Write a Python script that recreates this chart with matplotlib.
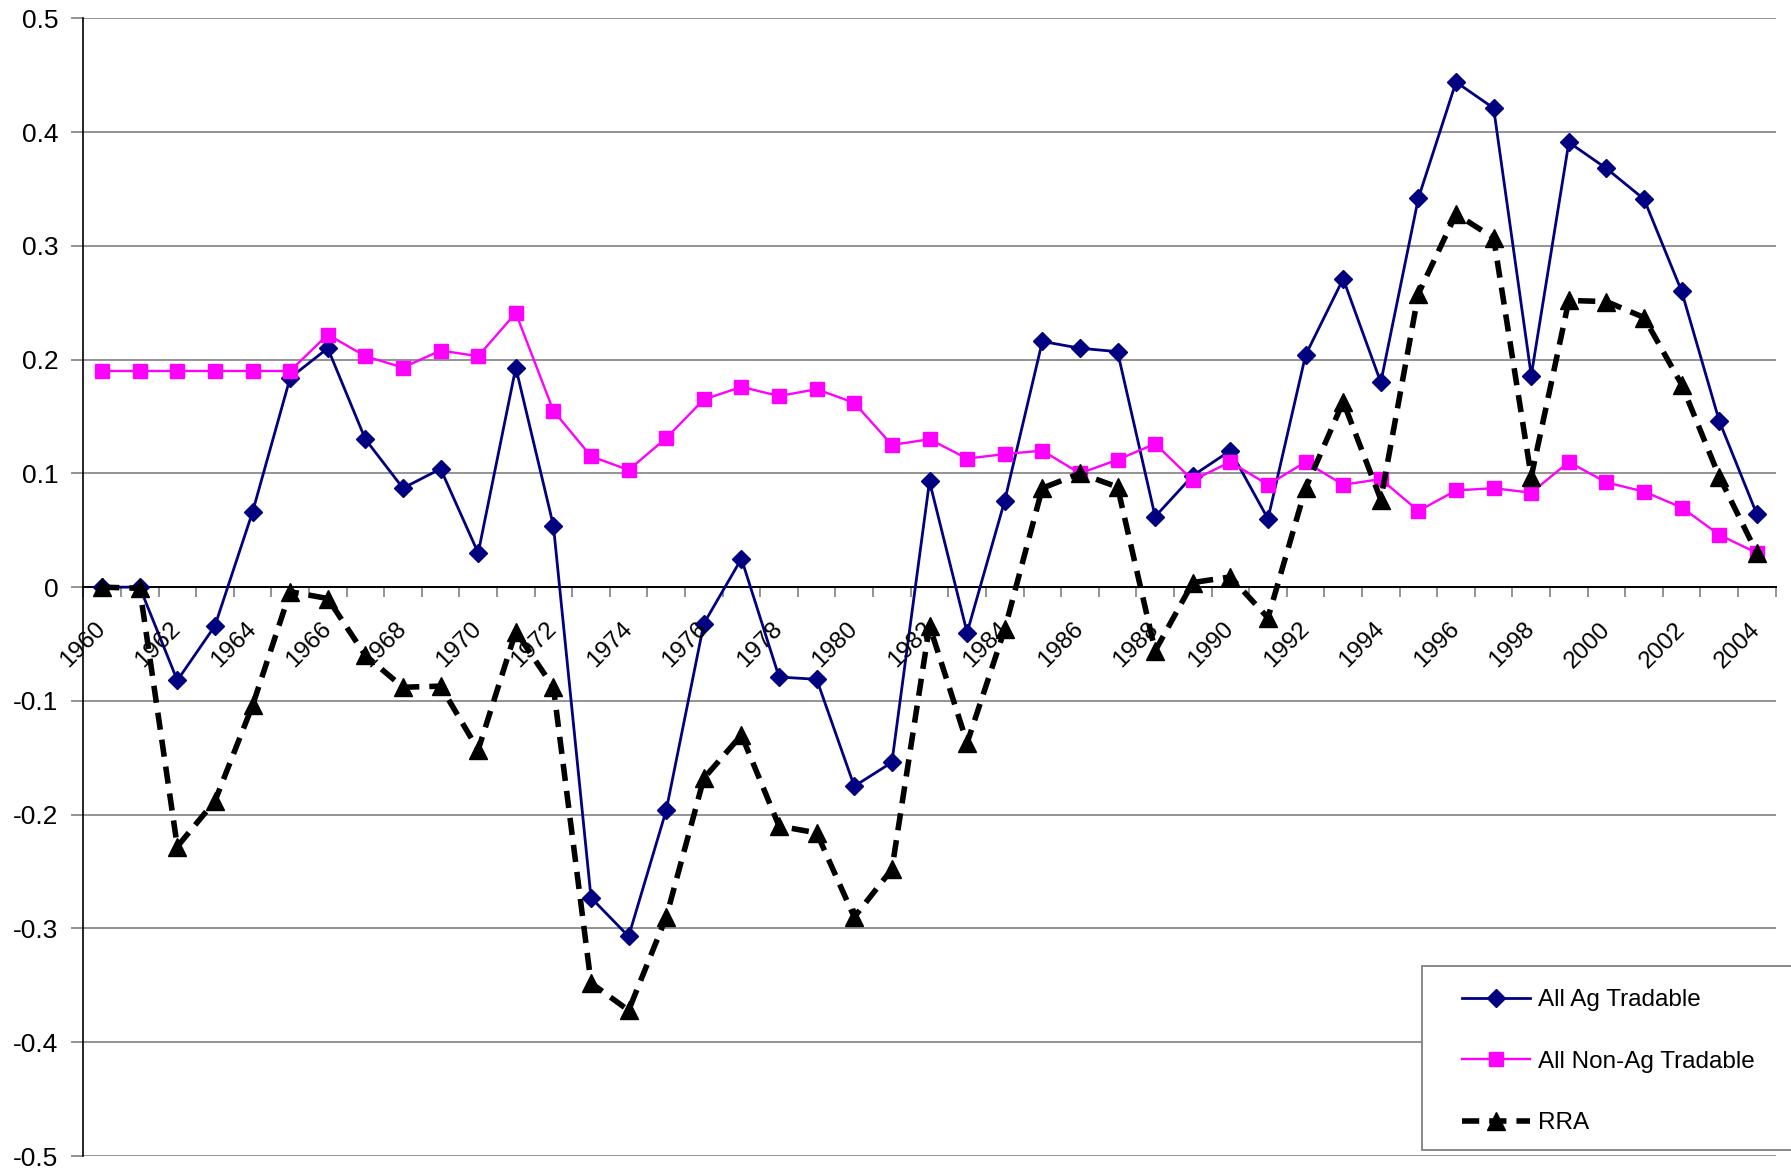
import matplotlib
matplotlib.use("Agg")
import matplotlib.pyplot as plt
from matplotlib.patches import Rectangle
from matplotlib.transforms import ScaledTranslation
from matplotlib.ticker import FixedLocator, NullLocator

plt.rcParams['font.family'] = ['Liberation Sans', 'DejaVu Sans']

years = list(range(1960, 2005))

ag_tradable = [0.0, 0.0, -0.082, -0.034, 0.066, 0.184, 0.210, 0.130, 0.087, 0.104,
               0.030, 0.193, 0.054, -0.273, -0.307, -0.196, -0.032, 0.025, -0.079, -0.081,
               -0.175, -0.154, 0.093, -0.040, 0.076, 0.216, 0.210, 0.207, 0.062, 0.098,
               0.120, 0.060, 0.204, 0.271, 0.180, 0.342, 0.444, 0.421, 0.186, 0.391,
               0.368, 0.341, 0.260, 0.146, 0.064]

non_ag_tradable = [0.190, 0.190, 0.190, 0.190, 0.190, 0.190, 0.222, 0.203, 0.193, 0.208,
                   0.203, 0.241, 0.155, 0.115, 0.103, 0.131, 0.165, 0.176, 0.168, 0.174,
                   0.162, 0.125, 0.130, 0.113, 0.117, 0.120, 0.100, 0.112, 0.126, 0.094,
                   0.110, 0.090, 0.110, 0.090, 0.095, 0.067, 0.085, 0.087, 0.083, 0.110,
                   0.092, 0.084, 0.070, 0.046, 0.030]

rra = [0.0, -0.001, -0.228, -0.188, -0.104, -0.004, -0.010, -0.060, -0.088, -0.087,
       -0.143, -0.039, -0.088, -0.348, -0.372, -0.290, -0.168, -0.130, -0.210, -0.216,
       -0.290, -0.248, -0.034, -0.137, -0.037, 0.087, 0.100, 0.088, -0.056, 0.004,
       0.009, -0.027, 0.087, 0.163, 0.077, 0.258, 0.328, 0.307, 0.097, 0.252,
       0.251, 0.237, 0.178, 0.097, 0.030]

y_ticks = [-0.5, -0.4, -0.3, -0.2, -0.1, 0, 0.1, 0.2, 0.3, 0.4, 0.5]
y_tick_labels = ['-0.5', '-0.4', '-0.3', '-0.2', '-0.1', '0', '0.1', '0.2', '0.3', '0.4', '0.5']

W, H = 1791, 1172
fig = plt.figure(figsize=(W / 100, H / 100), dpi=100)
ax = fig.add_axes([83.3 / W, 1 - 1156 / H, (1775.7 - 83.3) / W, (1156 - 18.3) / H])

FS = 17.5
FS_Y = 19
x = list(range(len(years)))

ax.plot(x, ag_tradable, color='#000080', lw=2.0, marker='D', ms=9.5,
        mfc='#000080', mec='#000080', label='All Ag Tradable', zorder=3)
ax.plot(x, non_ag_tradable, color='#FF00FF', lw=1.7, marker='s', ms=10.5,
        mfc='#FF00FF', mec='#FF00FF', label='All Non-Ag Tradable', zorder=4)
ax.plot(x, rra, color='black', lw=4.0, ls=(0, (3.1, 1.8)), marker='^', ms=13,
        mfc='black', mec='black', label='RRA', zorder=5)

ax.set_xlim(-0.5, len(years) - 0.5)
ax.set_ylim(-0.5, 0.5)

# horizontal gridlines
for yv in y_ticks:
    ax.axhline(yv, color='#808080', lw=1.2, zorder=1)

ax.set_yticks(y_ticks)
ax.set_yticklabels(y_tick_labels, fontsize=FS_Y)
ax.tick_params(axis='y', direction='out', length=9, width=1.2, color='#808080', pad=9)

for s in ['top', 'right']:
    ax.spines[s].set_visible(False)
ax.spines['left'].set_color('black')
ax.spines['left'].set_linewidth(1.2)
ax.spines['bottom'].set_position(('data', 0))
ax.spines['bottom'].set_color('black')
ax.spines['bottom'].set_linewidth(1.4)
ax.spines['bottom'].set_zorder(2)

# category boundary ticks on the zero axis
ax.xaxis.set_major_locator(FixedLocator([i - 0.5 for i in range(len(years) + 1)]))
ax.xaxis.set_minor_locator(NullLocator())
ax.tick_params(axis='x', direction='out', length=7.5, width=1.2, color='#808080',
               labelbottom=False)

# rotated year labels on every other category
offset = ScaledTranslation(-19 / 100, -31 / 100, fig.dpi_scale_trans)
for i, yr in enumerate(years):
    if i % 2 == 0:
        ax.text(i, 0, str(yr), transform=ax.transData + offset, rotation=45,
                ha='center', va='top', fontsize=FS, color='black', zorder=6)

# legend box
fig.add_artist(Rectangle((1421.7 / W, 1 - 1150 / H), (1800 - 1421.7) / W, (1150 - 966) / H,
                         transform=fig.transFigure, facecolor='white',
                         edgecolor='#808080', lw=1.3, zorder=3))
handles, labels = ax.get_legend_handles_labels()
fig.legend(handles, labels, loc='upper left',
           bbox_to_anchor=(1461.7 / W, 1 - 989 / H),
           frameon=False, fontsize=FS, borderpad=0, borderaxespad=0,
           handlelength=2.8, handletextpad=0.33, labelspacing=1.63)

fig.savefig('out.png', dpi=100, facecolor='white')
